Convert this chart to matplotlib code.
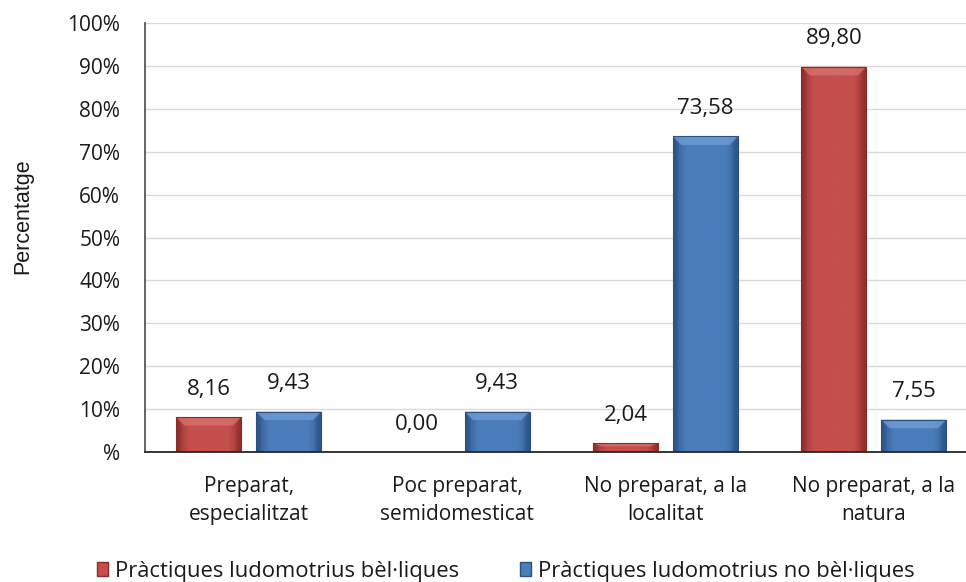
import numpy as np
import matplotlib
matplotlib.use("Agg")
import matplotlib.pyplot as plt
from matplotlib.colors import LinearSegmentedColormap
from matplotlib.patches import Polygon, Patch

categories = ["Preparat,\nespecialitzat", "Poc preparat,\nsemidomesticat",
              "No preparat, a la\nlocalitat", "No preparat, a la\nnatura"]
series_names = ["Pràctiques ludomotrius bèl·liques", "Pràctiques ludomotrius no bèl·liques"]
belliques = [8.16, 0.00, 2.04, 89.80]
no_belliques = [9.43, 9.43, 73.58, 7.55]
yticks = [0, 10, 20, 30, 40, 50, 60, 70, 80, 90, 100]
ytick_labels = ["%", "10%", "20%", "30%", "40%", "50%", "60%", "70%", "80%", "90%", "100%"]

plt.rcParams['font.family'] = ['Open Sans', 'DejaVu Sans']

W, H = 966, 582
fig = plt.figure(figsize=(W / 100, H / 100), dpi=100)
ax = fig.add_axes([144.5 / W, 1 - 452 / H, (978 - 144.5) / W, (452 - 23) / H])

x = np.arange(len(categories))
bw = 0.312
off = 0.192

styles = [
    dict(light="#C44F4C", dark="#8A2C2A", top="#D9706D"),
    dict(light="#4B7DBB", dark="#2C5082", top="#6F9CD3"),
]

def grad_cmap(light, dark):
    return LinearSegmentedColormap.from_list("g", [dark, light, light, dark])

ax.set_xlim(-0.5, 3.5)
ax.set_ylim(0, 100)

TXT = "#1a1a1a"
for vals, o, st in [(belliques, -off, styles[0]), (no_belliques, off, styles[1])]:
    bars = ax.bar(x + o, vals, bw, color=st["light"], edgecolor="none", zorder=2)
    cm = grad_cmap(st["light"], st["dark"])
    grad = np.linspace(0, 1, 200)
    gx = np.abs(grad - 0.5) * 2
    img = np.tile(0.5 + 0.5 * gx ** 2.0 * 0.95, (100, 1))
    for b, v in zip(bars, vals):
        if v <= 0:
            b.set_visible(False)
            continue
        x0, w = b.get_x(), b.get_width()
        im = ax.imshow(img, cmap=cm, vmin=0, vmax=1, aspect="auto",
                       extent=[x0, x0 + w, 0, v], zorder=2.1, interpolation="bilinear")
        im.set_clip_path(b)
        dx = 0.04
        dy = min(2.0, v * 0.35)
        ax.add_patch(Polygon([[x0, v], [x0 + w, v], [x0 + w - dx, v - dy], [x0 + dx, v - dy]],
                             closed=True, facecolor=st["top"], edgecolor="none", alpha=0.8, zorder=2.2))
        ax.add_patch(Polygon([[x0 + w, v], [x0 + w, 0], [x0 + w - dx * 0.6, 0], [x0 + w - dx * 0.6, v - dy]],
                             closed=True, facecolor=st["dark"], edgecolor="none", alpha=0.35, zorder=2.2))
        ax.add_patch(Polygon([[x0, v], [x0, 0], [x0 + dx * 0.6, 0], [x0 + dx * 0.6, v - dy]],
                             closed=True, facecolor=st["dark"], edgecolor="none", alpha=0.35, zorder=2.2))
        ax.add_patch(plt.Rectangle((x0, 0), w, v, fill=False, edgecolor=st["dark"], linewidth=0.8, zorder=2.3))
    for xi, v in zip(x + o, vals):
        ax.annotate(f"{v:.2f}".replace(".", ","), (xi, v), xytext=(0, 20), textcoords="offset points",
                    ha="center", va="center", fontsize=16, color=TXT)

ax.set_yticks(yticks)
ax.set_yticklabels(ytick_labels, fontsize=15, color=TXT)
ax.tick_params(axis="y", length=0, pad=17.5)
ax.set_xticks(x)
ax.set_xticklabels(categories, fontsize=15, color=TXT, linespacing=1.45)
ax.tick_params(axis="x", length=0, pad=17)
ax.grid(axis="y", color="#D9D9D9", linewidth=1.0, zorder=0)
ax.set_axisbelow(True)
for s in ["top", "right"]:
    ax.spines[s].set_visible(False)
ax.spines["left"].set_color("#595959")
ax.spines["left"].set_linewidth(1.3)
ax.spines["bottom"].set_color("#262626")
ax.spines["bottom"].set_linewidth(1.3)
ax.set_ylabel("Percentatge", fontsize=15.5, family=["Liberation Sans", "DejaVu Sans"], color=TXT)
ax.yaxis.set_label_coords(-111.5 / (978 - 144.5), (452 - 216) / 429)

handles = [Patch(facecolor=styles[0]["light"], edgecolor=styles[0]["dark"]),
           Patch(facecolor=styles[1]["light"], edgecolor=styles[1]["dark"])]
fig.legend(handles, series_names, loc="center", bbox_to_anchor=(506 / W, 1 - 571 / H), ncol=2,
           frameon=False, fontsize=15.8, handlelength=0.5, handleheight=0.6, handletextpad=0.3,
           columnspacing=2.8, borderaxespad=0, labelcolor=TXT)

fig.savefig("out.png", dpi=100)
